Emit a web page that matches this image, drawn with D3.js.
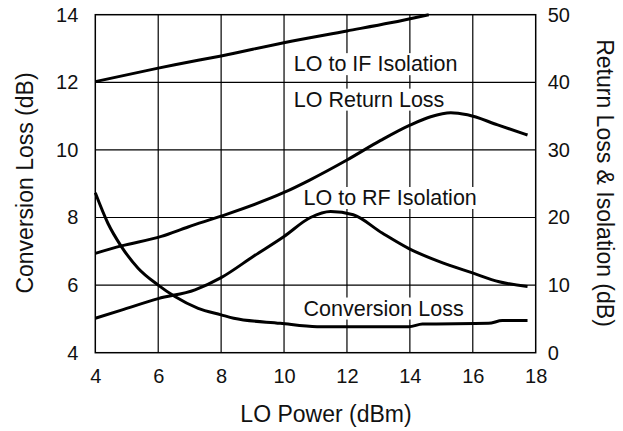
<!DOCTYPE html>
<html>
<head>
<meta charset="utf-8">
<script src="https://cdn.jsdelivr.net/npm/d3@7"></script>
<style>
  body { margin: 0; background: #fff; }
  svg { display: block; font-family: "Liberation Sans", Arial, Helvetica, sans-serif; }
</style>
</head>
<body>
<svg id="chart" width="623" height="431"></svg>
<script>
const WIDTH = 623;
const HEIGHT = 431;
const MARGIN = { top: 14.7, right: 87.3, bottom: 78.3, left: 95.3 };

// x ticks (LO power, dBm)
const xTicks = [4, 6, 8, 10, 12, 14, 16, 18];
// left axis ticks (conversion loss, dB)
const leftTicks = [4, 6, 8, 10, 12, 14];
// right axis ticks (return loss & isolation, dB)
const rightTicks = [0, 10, 20, 30, 40, 50];

// [LO power, conversion loss dB] - left axis
const conversionLoss = [
  [4, 8.73], [4.4, 7.83], [4.83, 7.14], [5.36, 6.5], [6, 6.0], [6.53, 5.66],
  [7.27, 5.31], [8, 5.12], [8.4, 5.02], [9.88, 4.87], [11.05, 4.77],
  [13.97, 4.77], [14.4, 4.85], [16.5, 4.87], [16.94, 4.95], [17.74, 4.95]
];
// [LO power, dB] - right axis
const loReturnLoss = [
  [4, 14.7], [4.83, 15.8], [6.1, 17.2], [6.95, 18.6], [8, 20.2], [10, 23.7],
  [10.8, 25.5], [12, 28.5], [13.07, 31.4], [14.02, 33.7], [14.66, 34.9],
  [15.3, 35.5], [15.83, 35.2], [16.79, 33.7], [17.74, 32.2]
];
const loToIfIsolation = [
  [4, 40.1], [6, 42.1], [6.53, 42.6], [8, 43.9], [10.03, 45.9], [12, 47.6],
  [13.38, 48.8], [14.6, 50]
];
const loToRfIsolation = [
  [4, 5.1], [4.83, 6.3], [6, 8.0], [7.17, 9.3], [8, 11.1], [9.04, 14.3],
  [10, 17.2], [10.84, 20.0], [11.48, 20.9], [12.2, 20.4], [13.12, 17.7],
  [13.97, 15.4], [14.92, 13.5], [15.99, 11.8], [16.84, 10.5], [17.74, 9.8]
];

// curve labels: [text, x, baseline y] in data units (left axis)
const labels = [
  ["LO to IF Isolation", 10.31, 12.33],
  ["LO Return Loss", 10.31, 11.28],
  ["LO to RF Isolation", 10.62, 8.37],
  ["Conversion Loss", 10.62, 5.1]
];

const svg = d3.select("#chart");

const x = d3.scaleLinear().domain([4, 18]).range([MARGIN.left, WIDTH - MARGIN.right]);
const yL = d3.scaleLinear().domain([4, 14]).range([HEIGHT - MARGIN.bottom, MARGIN.top]);
const yR = d3.scaleLinear().domain([0, 50]).range([HEIGHT - MARGIN.bottom, MARGIN.top]);

// grid
const grid = svg.append("g").attr("stroke", "#000").attr("stroke-width", 1.2);
grid.selectAll("line.v")
  .data(xTicks.slice(1, -1))
  .join("line")
  .attr("class", "v")
  .attr("x1", d => x(d)).attr("x2", d => x(d))
  .attr("y1", yL(14)).attr("y2", yL(4));
grid.selectAll("line.h")
  .data(leftTicks.slice(1, -1))
  .join("line")
  .attr("class", "h")
  .attr("x1", x(4)).attr("x2", x(18))
  .attr("y1", d => yL(d)).attr("y2", d => yL(d));

// curve labels with white backgrounds
const labelG = svg.append("g").attr("font-size", 21.5).attr("fill", "#111");
labels.forEach(([t, lx, ly]) => {
  const g = labelG.append("g");
  const txt = g.append("text").attr("x", x(lx)).attr("y", yL(ly)).attr("text-anchor", "start").text(t);
  const bb = txt.node().getBBox();
  g.insert("rect", "text")
    .attr("x", bb.x - 3).attr("y", bb.y + 1)
    .attr("width", bb.width + 6).attr("height", bb.height - 2)
    .attr("fill", "#fff");
});

// frame
svg.append("rect")
  .attr("x", x(4)).attr("y", yL(14))
  .attr("width", x(18) - x(4)).attr("height", yL(4) - yL(14))
  .attr("fill", "none").attr("stroke", "#000").attr("stroke-width", 1.5);

// curves
const lineL = d3.line().x(d => x(d[0])).y(d => yL(d[1])).curve(d3.curveMonotoneX);
const lineR = d3.line().x(d => x(d[0])).y(d => yR(d[1])).curve(d3.curveMonotoneX);
const curves = svg.append("g").attr("fill", "none").attr("stroke", "#000")
  .attr("stroke-width", 3).attr("stroke-linejoin", "round");
curves.append("path").attr("d", lineL(conversionLoss));
curves.append("path").attr("d", lineR(loReturnLoss));
curves.append("path").attr("d", lineR(loToIfIsolation));
curves.append("path").attr("d", lineR(loToRfIsolation));

// axes
const axisFont = 20;
const styleTicks = g => g.selectAll("text").attr("font-size", axisFont).attr("font-family", null).attr("fill", "#111");
svg.append("g")
  .attr("transform", `translate(0,${yL(4)})`)
  .call(d3.axisBottom(x).tickValues(xTicks).tickSize(0).tickPadding(16))
  .call(g => g.select(".domain").remove())
  .call(styleTicks);

svg.append("g")
  .attr("transform", `translate(${x(4)},0)`)
  .call(d3.axisLeft(yL).tickValues(leftTicks).tickSize(0).tickPadding(17))
  .call(g => g.select(".domain").remove())
  .call(styleTicks);

svg.append("g")
  .attr("transform", `translate(${x(18)},0)`)
  .call(d3.axisRight(yR).tickValues(rightTicks).tickSize(0).tickPadding(12))
  .call(g => g.select(".domain").remove())
  .call(styleTicks);

// axis titles
const titleFont = 23;
svg.append("text")
  .attr("x", 326).attr("y", 422)
  .attr("text-anchor", "middle").attr("font-size", titleFont).attr("fill", "#111")
  .text("LO Power (dBm)");
svg.append("text")
  .attr("transform", "translate(33,183) rotate(-90)")
  .attr("text-anchor", "middle").attr("font-size", titleFont).attr("fill", "#111")
  .text("Conversion Loss (dB)");
svg.append("text")
  .attr("transform", "translate(597,183) rotate(90)")
  .attr("text-anchor", "middle").attr("font-size", titleFont).attr("fill", "#111")
  .text("Return Loss & Isolation (dB)");
</script>
</body>
</html>
